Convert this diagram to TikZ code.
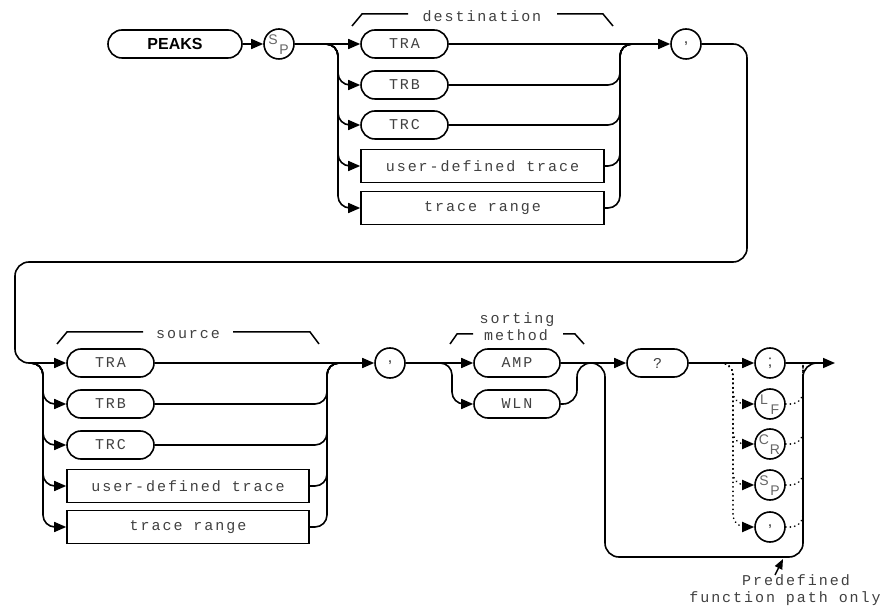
\documentclass[tikz,border=0pt]{standalone}
\usepackage{fontspec}
\setmainfont{Liberation Sans}
\newfontfamily\hpfont[LetterSpace=13]{Liberation Mono}
\newfontfamily\hpchar{Liberation Sans}
\usetikzlibrary{arrows.meta,calc}
\begin{document}
\begin{tikzpicture}[x=1pt,y=-1pt,line width=1.6pt,
  arr/.style={-{Triangle[length=12pt,width=10pt]}},
  rc/.style={rounded corners=12pt},
  rcb/.style={rounded corners=14pt},
  dotl/.style={line width=1.8pt,dash pattern=on 0.1pt off 4.4pt,line cap=round},
  hptext/.style={font=\hpfont\fontsize{15}{17}\selectfont,text=black!75},
  kw/.style={draw,rounded corners=14pt,minimum height=28pt,inner sep=0pt,hptext},
  box/.style={draw,rectangle,minimum height=33pt,inner sep=0pt,hptext},
  circ/.style={draw,circle,minimum size=30pt,inner sep=0pt,font=\hpchar\fontsize{16}{16}\selectfont,text=black!80},
  sub/.style={inner sep=0pt,font=\hpchar\fontsize{14}{14}\selectfont,text=black!60},
  lbl/.style={inner sep=0pt,hptext},
  brk/.style={line width=1.5pt}]
\useasboundingbox (0,0) rectangle (889,609);

% ---------- top row ----------
\node[kw,minimum width=134pt,font=\bfseries\fontsize{16}{16}\selectfont,text=black] (peaks) at (175,44) {PEAKS};
\node[circ] (sp1) at (279,44) {};
\node[sub] (sp1s) at ($(sp1)+(-6,-4)$) {S};
\node[sub] (sp1p) at ($(sp1)+(5,6)$) {P};

\node[kw,minimum width=87pt] (dTRA) at (404.5,44) {TRA};
\node[kw,minimum width=87pt] (dTRB) at (404.5,85) {TRB};
\node[kw,minimum width=87pt] (dTRC) at (404.5,125) {TRC};
\node[box,minimum width=243pt] (dUser) at (482.5,166) {user-defined trace};
\node[box,minimum width=243pt] (dRange) at (482.5,208) {trace range};
\node[circ] (comma1) at (686,44) {,};

\node[lbl] (destlbl) at (482,16) {destination};
\draw[brk] (352,26) -- (362,14) -- (408,14);
\draw[brk] (557,14) -- (603,14) -- (613,26);

\coordinate (dj) at (338,44);
\coordinate (dm) at (620,44);

\draw[arr] (peaks.east) -- (sp1.west);
\draw[arr] (sp1.east) -- (dTRA.west);
\draw[arr] (dTRA.east) -- (comma1.west);
\foreach \n in {dTRB,dTRC,dUser,dRange}{
  \draw[arr,rc] ([xshift=-12pt]dj) -- (dj) |- (\n.west);
  \draw[rc] (\n.east) -| (dm) -- ([xshift=12pt]dm);
}

% ---------- loop ----------
\coordinate (lp1) at (747,44);
\coordinate (lp2) at (747,262);
\coordinate (lp3) at (15,262);
\coordinate (lp4) at (15,363);

% ---------- bottom row ----------
\node[kw,minimum width=87pt] (sTRA) at (110.5,363) {TRA};
\node[kw,minimum width=87pt] (sTRB) at (110.5,404) {TRB};
\node[kw,minimum width=87pt] (sTRC) at (110.5,445) {TRC};
\node[box,minimum width=242pt] (sUser) at (188,486) {user-defined trace};
\node[box,minimum width=242pt] (sRange) at (188,527) {trace range};

\draw[arr,rcb] (comma1.east) -- (lp1) -- (lp2) -- (lp3) -- (lp4) -- (sTRA.west);

\node[lbl] (srclbl) at (188,335) {source};
\draw[brk] (57,344) -- (67,332) -- (143,332);
\draw[brk] (233,332) -- (310,332) -- (319,344);

\coordinate (sj) at (43,363);
\coordinate (sm) at (327,363);
\foreach \n in {sTRB,sTRC,sUser,sRange}{
  \draw[arr,rc] ([xshift=-12pt]sj) -- (sj) |- (\n.west);
  \draw[rc] (\n.east) -| (sm) -- ([xshift=12pt]sm);
}

\node[circ] (comma2) at (390,363) {,};
\draw[arr] (sTRA.east) -- (comma2.west);

\node[kw,minimum width=86pt] (amp) at (517,363) {AMP};
\node[kw,minimum width=86pt] (wln) at (517,404) {WLN};
\node[lbl] (sortlbl) at (517,320) {sorting};
\node[lbl] (methlbl) at (516,335) {method};
\draw[brk] (450,344) -- (457,334) -- (473,334);
\draw[brk] (563,334) -- (575,334) -- (584,344);

\coordinate (oj) at (452,363);
\coordinate (om) at (577,363);
\draw[arr] (comma2.east) -- (amp.west);
\draw[arr,rc] ([xshift=-12pt]oj) -- (oj) |- (wln.west);
\draw[rcb] (wln.east) -| (om) -- ([xshift=14pt]om);

\node[kw,minimum width=61pt] (q) at (657.5,363) {?};
\draw[arr] (amp.east) -- (q.west);

\node[circ] (semi) at (770,363) {;};
\node[circ] (lf) at (770,404) {};
\node[sub] (lfl) at ($(lf)+(-6,-4)$) {L};
\node[sub] (lff) at ($(lf)+(5,6)$) {F};
\node[circ] (cr) at (770,444) {};
\node[sub] (crc) at ($(cr)+(-6,-4)$) {C};
\node[sub] (crr) at ($(cr)+(5,6)$) {R};
\node[circ] (sp2) at (770,485) {};
\node[sub] (sp2s) at ($(sp2)+(-6,-4)$) {S};
\node[sub] (sp2p) at ($(sp2)+(5,6)$) {P};
\node[circ] (comma3) at (770,527) {,};

\coordinate (tj) at (733,363);
\coordinate (tm) at (803,363);
\coordinate (bl) at (605,557);
\coordinate (endpt) at (835,363);

\draw[arr] (q.east) -- (semi.west);
\draw[arr] (semi.east) -- (endpt);

% bypass
\draw[rcb] ([xshift=14pt]om) -| (bl) -| (tm) -- ([xshift=14pt]tm);

% dotted alternatives
\foreach \n in {lf,cr,sp2,comma3}{
  \draw[dotl,rc,-{Triangle[length=12pt,width=10pt]}] ([xshift=-12pt]tj) -- (tj) |- (\n.west);
  \draw[dotl,rc] (\n.east) -| (tm);
}

% annotation
\node[lbl] (predef) at (796,580) {Predefined};
\node[lbl] (fpath) at (785,599) {function path only};
\coordinate (ptail) at (775,575);
\coordinate (ptip) at (783,559);
\draw[-{Triangle[length=10pt,width=8pt]},line width=1.5pt] (ptail) -- (ptip);
\end{tikzpicture}
\end{document}
